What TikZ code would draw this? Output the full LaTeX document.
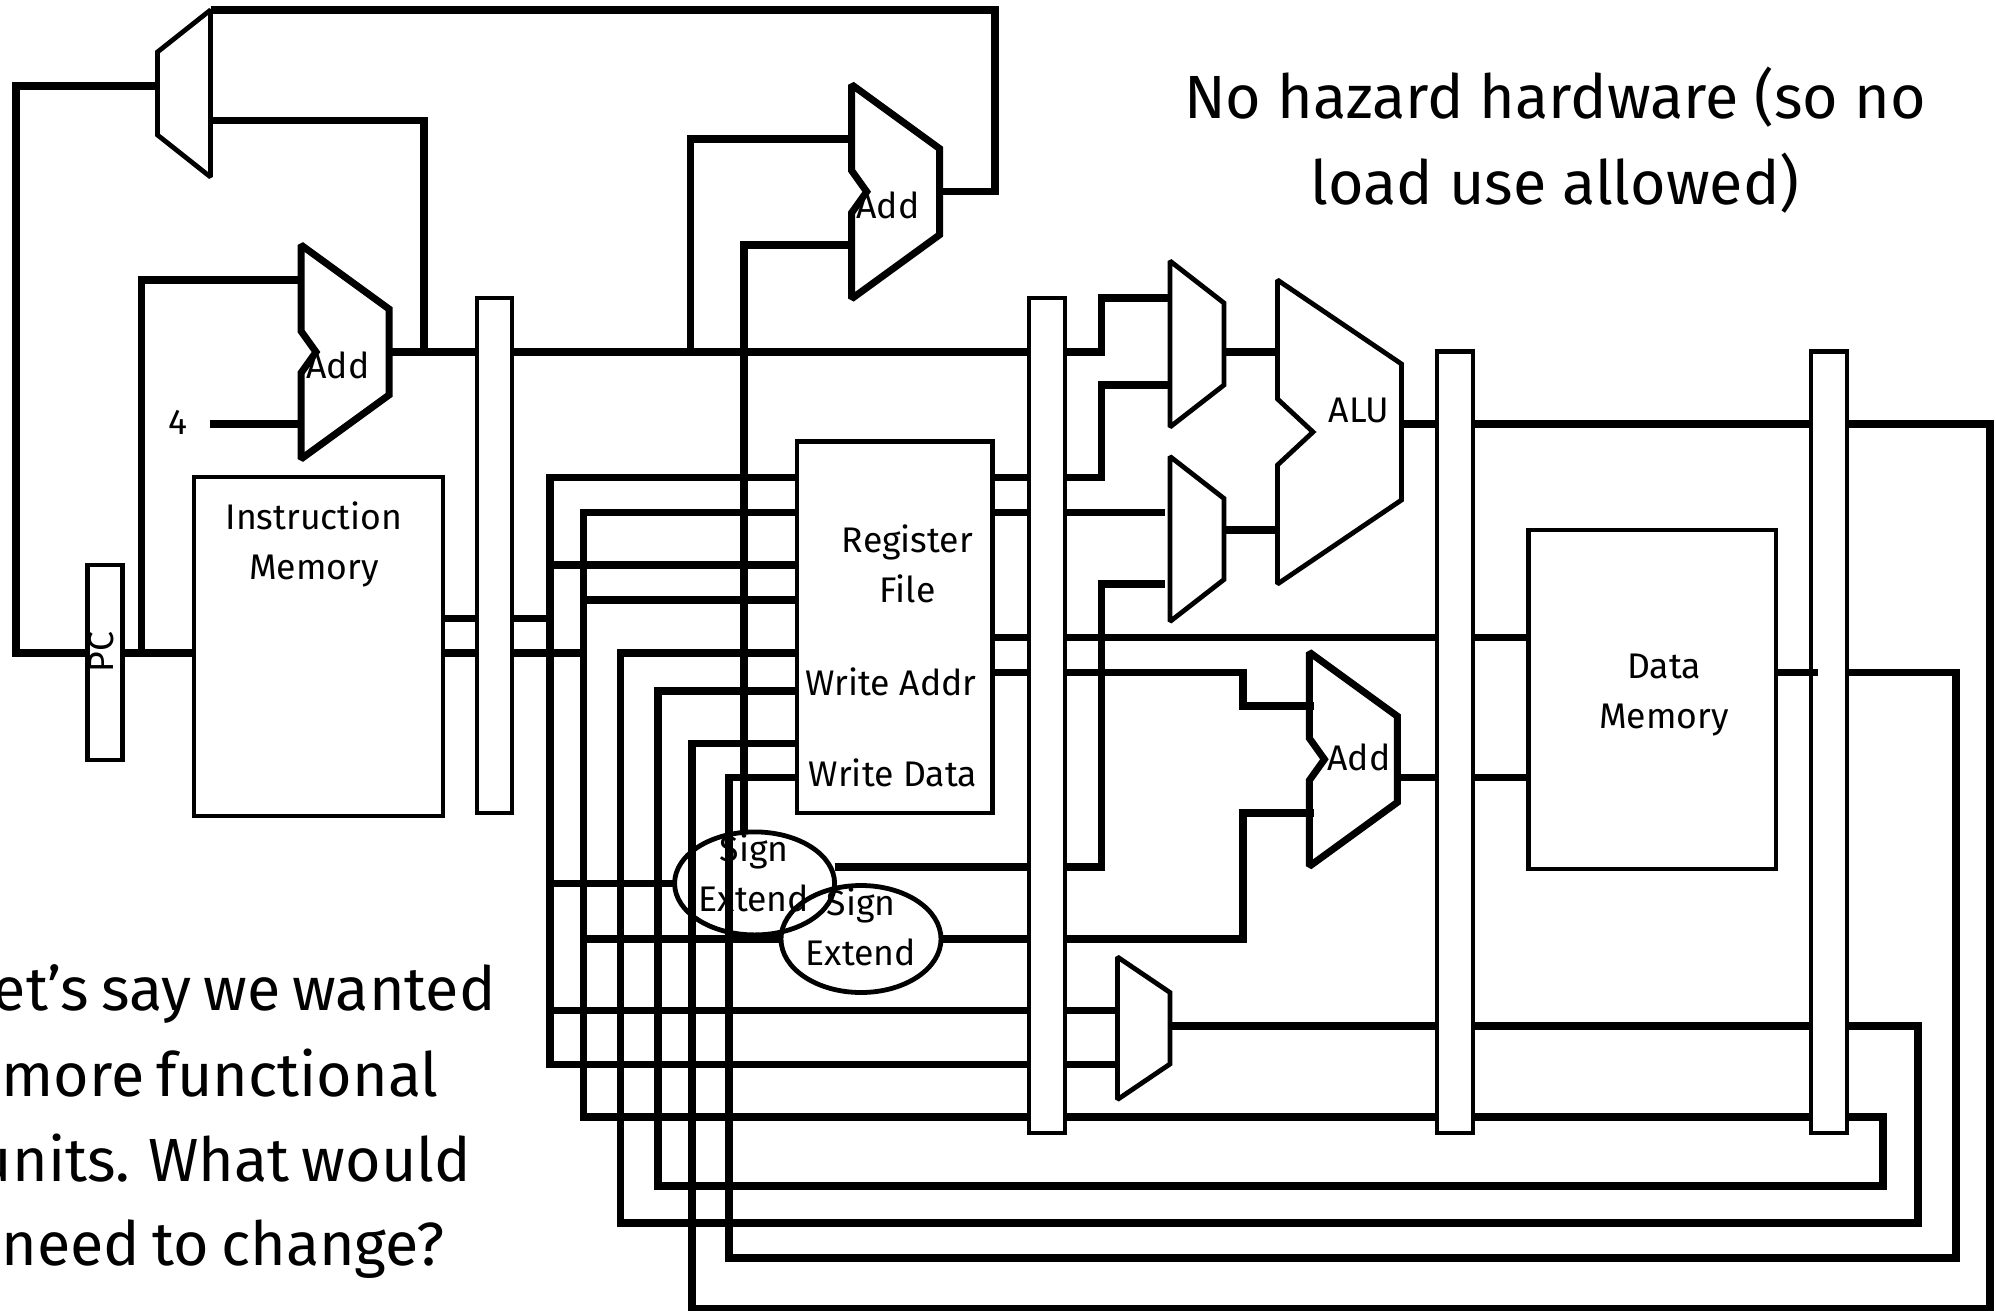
\documentclass[tikz,border=0pt]{standalone}
\usepackage{fontspec}
\setmainfont{Fira Sans}
\usetikzlibrary{shapes.geometric, positioning, calc, backgrounds}

\newcommand{\notefont}{\fontsize{30.5}{42.5}\selectfont\spaceskip=.2em\relax}
\newcommand{\muxshape}[3]{\draw[#1] (#2.north west) -- ($(#2.north east)+(0,#3)$) -- ($(#2.south east)+(0,-#3)$) -- (#2.south west) -- cycle;}
\newcommand{\addshape}[5]{\draw[#1] (#2.north west) -- ($(#2.north east)+(0,#3)$) -- ($(#2.south east)+(0,-#3)$) -- (#2.south west) -- ($(#2.west)+(0,#4)$) -- ($(#2.west)+(#5,0)$) -- ($(#2.west)+(0,-#4)$) -- cycle;}

\begin{document}
\begin{tikzpicture}[
  x=0.5pt, y=-0.5pt,
  wire/.style={line width=3.7pt},
  boxsize/.style 2 args={minimum width=#1*0.5pt, minimum height=#2*0.5pt},
  outline/.style={draw, line width=2.4pt, inner sep=0pt, outer sep=0pt},
  pipe/.style={outline, fill=white},
  muxbox/.style={inner sep=0pt, outer sep=0pt},
  muxline/.style={line width=2.4pt, miter limit=1.5},
  addline/.style={line width=3.5pt, miter limit=1.5},
  lbl/.style={inner sep=0pt, align=center, font=\fontsize{17.8}{25}\selectfont},
  big/.style={inner sep=0pt, font=\fontsize{30.5}{42.5}\selectfont},
  note/.style={inner sep=0pt, anchor=base east, font=\notefont},
]
  \useasboundingbox (0,0) rectangle (1996,1311);

  \node[pipe, boxsize={35}{195}] (pc) at (105,662.5) {};
  \node[outline, boxsize={249}{339}] (imem) at (318.5,646.5) {};
  \node[outline, boxsize={195.5}{371.3}] (rfile) at (894.75,627.35) {};
  \node[outline, boxsize={247.4}{339}] (dmem) at (1652.3,699.5) {};
  \node[pipe, boxsize={35}{515}] (pipeA) at (494.5,555.5) {};
  \node[pipe, boxsize={36}{835}] (pipeB) at (1047,715.5) {};
  \node[pipe, boxsize={36}{781.5}] (pipeC) at (1455,742.25) {};
  \node[pipe, boxsize={36}{781.5}] (pipeD) at (1829,742.25) {};
  \node[ellipse, outline, boxsize={160}{103}] (sextA) at (754.6,883.4) {};
  \node[ellipse, outline, boxsize={160}{107}] (sextB) at (861,939) {};

  \node[muxbox, boxsize={53}{167}] (muxT) at (184,93.5) {};
  \node[muxbox, boxsize={54}{166}] (muxA) at (1197,344) {};
  \node[muxbox, boxsize={54}{165}] (muxB) at (1197,539) {};
  \node[muxbox, boxsize={52.5}{142.5}] (muxC) at (1143.75,1028.25) {};
  \node[muxbox, boxsize={124}{304}] (alu) at (1339.5,432) {};
  \node[muxbox, boxsize={88}{214}] (addA) at (345,352) {};
  \node[muxbox, boxsize={88}{214}] (addB) at (895.7,191.7) {};
  \node[muxbox, boxsize={88}{214}] (addC) at (1353.4,759.3) {};

  \draw[muxline] (muxT.north east) -- ($(muxT.north west)+(0,42)$) -- ($(muxT.south west)+(0,-42)$) -- (muxT.south east) -- cycle;
  \muxshape{muxline}{muxA}{42}
  \muxshape{muxline}{muxB}{42}
  \muxshape{muxline}{muxC}{35.5}
  \addshape{muxline}{alu}{84}{33}{35.5}
  \addshape{addline}{addA}{64}{21}{15}
  \addshape{addline}{addB}{64}{21}{15}
  \addshape{addline}{addC}{64}{21}{15}

  \node[lbl, rotate=90] (pcLbl) at (101,652) {PC};
  \node[lbl] (imemLbl) at (314,544.3) {Instruction\\Memory};
  \node[lbl] (rfileLbl) at (907.5,564) {Register\\File};
  \node[lbl] (waddrLbl) at (891,681.7) {Write Addr};
  \node[lbl] (wdataLbl) at (893,773) {Write Data};
  \node[lbl] (dmemLbl) at (1664,694.8) {Data\\Memory};
  \node[lbl] (sextALbl) at (754,872.5) {Sign\\Extend};
  \node[lbl] (sextBLbl) at (861,926.8) {Sign\\Extend};
  \node[lbl] (addALbl) at (338,365) {Add};
  \node[lbl] (addBLbl) at (888,205) {Add};
  \node[lbl] (addCLbl) at (1359,757) {Add};
  \node[lbl] (aluLbl) at (1359,410) {ALU};
  \node[lbl] (four) at (178,422) {4};

  \node[big, anchor=base] (titleA) at (1555,119) {No hazard hardware (so no};
  \node[big, anchor=base] (titleB) at (1555,204) {load use allowed)};
  \node[note] (noteA) at (496,1010) {et’s say we wanted};
  \node[note] (noteB) at (439,1096) {more functional};
  \node[note] (noteC) at (471,1181) {units. What would};
  \node[note] (noteD) at (445,1265) {need to change?};

  \coordinate (trkPc) at (16,0);
  \coordinate (trkIn) at (141.6,0);
  \coordinate (trkNext) at (424,0);
  \coordinate (trkA) at (550,0);
  \coordinate (trkB) at (583.5,0);
  \coordinate (trkC) at (620.5,0);
  \coordinate (trkD) at (658,0);
  \coordinate (trkH) at (690.7,0);
  \coordinate (trkE) at (692,0);
  \coordinate (trkF) at (729,0);
  \coordinate (trkG) at (744,0);
  \coordinate (trkTop) at (995,0);
  \coordinate (trkM) at (1101.6,0);
  \coordinate (trkI) at (1243,0);
  \coordinate (trkJ) at (1883,0);
  \coordinate (trkK) at (1918,0);
  \coordinate (trkL) at (1956,0);
  \coordinate (trkR) at (1990,0);

  \coordinate (lvTL) at (0,86);
  \coordinate (lvTB) at (0,120.8);
  \coordinate (lvBrA) at (0,139);
  \coordinate (lvBrB) at (0,245);
  \coordinate (lvAdd) at (0,280);
  \coordinate (lvMuxA) at (0,298);
  \coordinate (lvNext) at (0,352);
  \coordinate (lvMuxB) at (0,385);
  \coordinate (lvAlu) at (0,424);
  \coordinate (lvR1) at (0,477.7);
  \coordinate (lvR2) at (0,512.5);
  \coordinate (lvAluB) at (0,530);
  \coordinate (lvR3) at (0,565);
  \coordinate (lvR4) at (0,600);
  \coordinate (lvIm) at (0,618.7);
  \coordinate (lvO1) at (0,637.3);
  \coordinate (lvPc) at (0,653);
  \coordinate (lvO2) at (0,672.3);
  \coordinate (lvW2) at (0,691);
  \coordinate (lvW3) at (0,743.4);
  \coordinate (lvW4) at (0,777.5);
  \coordinate (lvS1) at (0,866.8);
  \coordinate (lvM1) at (0,1010.7);
  \coordinate (lvCout) at (0,1026);
  \coordinate (lvM2) at (0,1064.6);
  \coordinate (lvB1) at (0,1117);
  \coordinate (lvB2) at (0,1186);
  \coordinate (lvB3) at (0,1223);
  \coordinate (lvB4) at (0,1258);
  \coordinate (lvB5) at (0,1308.5);

  \coordinate (fourOut) at (210,424);
  \coordinate (muxBinA) at (1165,512.5);
  \coordinate (muxBinB) at (1165,584);
  \coordinate (addCinA) at (1314,706);
  \coordinate (addCinB) at (1314,813);
  \coordinate (dmStub) at (1818,672.3);

  \draw[wire] (dmem.east |- lvO2) -- (dmStub);

  \begin{scope}[on background layer]
    \draw[wire] (muxT.north east) -| (trkTop |- addB.east) -- (addB.east);
    \draw[wire] (muxT.west |- lvTL) -| (trkPc |- lvPc) -- (imem.west |- lvPc);
    \draw[wire] (muxT.east |- lvTB) -| (trkNext |- lvNext);
    \draw[wire] (trkIn |- lvPc) |- (addA.west |- lvAdd);
    \draw[wire] (fourOut) -- (addA.west |- fourOut);

    \draw[wire] (addA.east) -- (trkM |- lvNext) |- (muxA.west |- lvMuxA);
    \draw[wire] (trkH |- lvNext) |- (addB.west |- lvBrA);
    \draw[wire] (trkG |- sextA.north) |- (addB.west |- lvBrB);

    \draw[wire] (imem.east |- lvIm) -- (trkA |- lvIm);
    \draw[wire] (imem.east |- lvPc) -- (trkB |- lvPc);

    \draw[wire] (rfile.west |- lvR1) -| (trkA |- lvM2) -- (muxC.west |- lvM2);
    \draw[wire] (trkA |- lvR3) -- (rfile.west |- lvR3);
    \draw[wire] (trkA |- sextA.west) -- (sextA.west);
    \draw[wire] (trkA |- lvM1) -- (muxC.west |- lvM1);

    \draw[wire] (rfile.west |- lvR2) -| (trkB |- lvB1) -- (trkJ |- lvB1) -- (trkJ |- lvB2) -- (trkD |- lvB2) -- (trkD |- lvW2) -- (rfile.west |- lvW2);
    \draw[wire] (trkB |- lvR4) -- (rfile.west |- lvR4);
    \draw[wire] (trkB |- sextB.west) -- (sextB.west);

    \draw[wire] (muxC.east |- lvCout) -- (trkK |- lvCout) -- (trkK |- lvB3) -- (trkC |- lvB3) -- (trkC |- lvPc) -- (rfile.west |- lvPc);
    \draw[wire] (alu.east |- lvAlu) -- (trkR |- lvAlu) -- (trkR |- lvB5) -- (trkE |- lvB5) -- (trkE |- lvW3) -- (rfile.west |- lvW3);
    \draw[wire] (pipeD.east |- lvO2) -- (trkL |- lvO2) -- (trkL |- lvB4) -- (trkF |- lvB4) -- (trkF |- lvW4) -- (rfile.west |- lvW4);

    \draw[wire] (rfile.east |- lvR1) -- (trkM |- lvR1) |- (muxA.west |- lvMuxB);
    \draw[wire] (rfile.east |- lvR2) -- (muxBinA);
    \draw[wire] (sextA.east |- lvS1) -- (trkM |- lvS1) |- (muxBinB);
    \draw[wire] (rfile.east |- lvO1) -- (dmem.west |- lvO1);
    \draw[wire] (rfile.east |- lvO2) -- (trkI |- lvO2) |- (addCinA);
    \draw[wire] (sextB.east) -- (trkI |- sextB.east) |- (addCinB);
    \draw[wire] (addC.east |- lvW4) -- (dmem.west |- lvW4);
    \draw[wire] (muxA.east |- lvNext) -- (alu.west |- lvNext);
    \draw[wire] (muxB.east |- lvAluB) -- (alu.west |- lvAluB);
  \end{scope}
\end{tikzpicture}
\end{document}
